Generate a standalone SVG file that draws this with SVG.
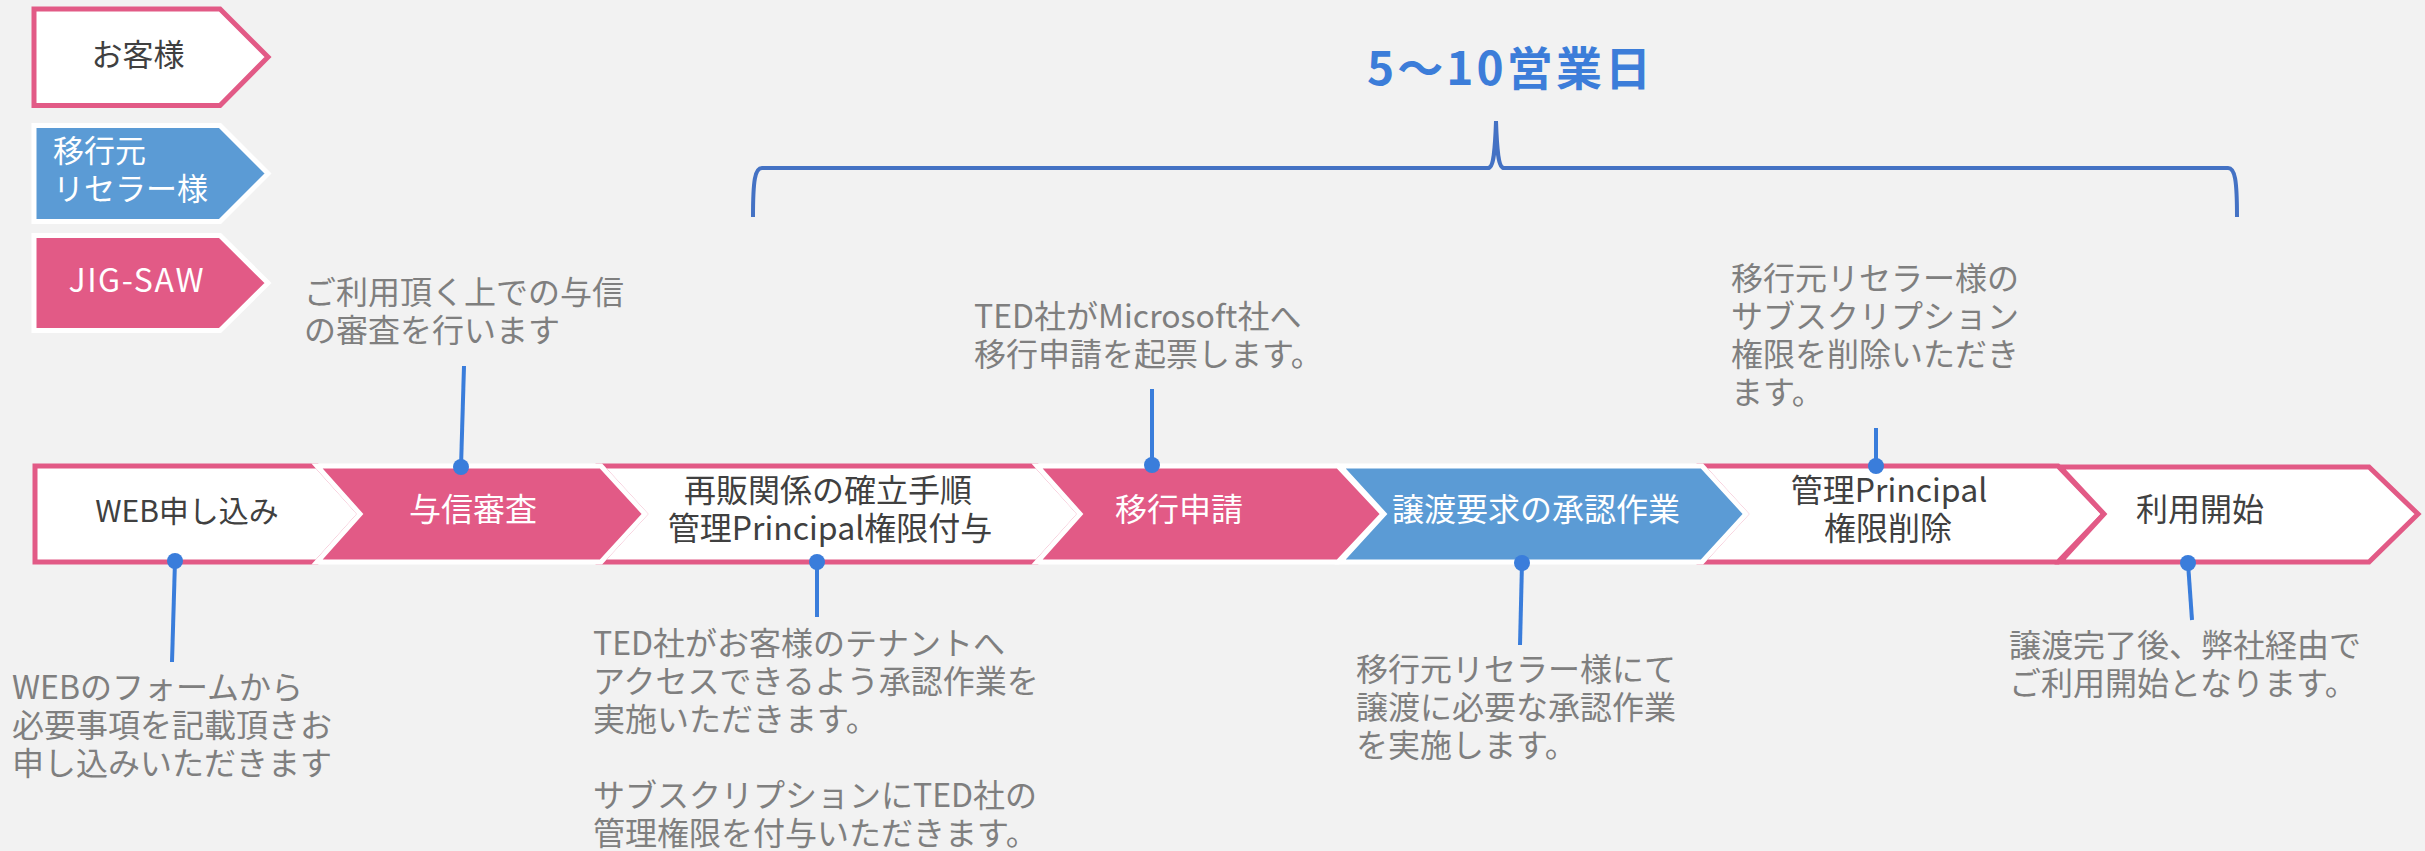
<svg xmlns="http://www.w3.org/2000/svg" width="2425" height="851" viewBox="0 0 2425 851">
<style>
text { font-family: 'Noto Sans CJK JP', 'Noto Sans CJK SC', sans-serif; }
.lbl { font-size: 32px; fill: #404040; text-anchor: middle; }
.lblw { font-size: 32px; fill: #FFFFFF; text-anchor: middle; }
.note { font-size: 32px; fill: #7F7F7F; }
.pinkline { fill: #FFFFFF; stroke: #E25A86; stroke-width: 5; }
.pinkfill { fill: #E25A86; stroke: #FFFFFF; stroke-width: 5; }
.bluefill { fill: #5B9BD5; stroke: #FFFFFF; stroke-width: 5; }
.conn line { stroke: #3A7DDB; stroke-width: 4; }
.conn circle { fill: #3A7DDB; }
.title { font-size: 46px; font-weight: bold; fill: #3C7DD9; text-anchor: middle; }
</style>
<rect width="2425" height="851" fill="#F2F2F2"/>

<!-- legend -->
<g id="legend-customer">
  <path class="pinkline" d="M34,9 H220 L268,57 L220,105.5 H34 Z"/>
  <text class="lbl" x="138" y="66" style="font-size:31px">お客様</text>
</g>
<g id="legend-reseller">
  <path class="bluefill" d="M34,125.5 H220 L268,173.5 L220,221.5 H34 Z"/>
  <text class="lblw" x="53" y="162" style="text-anchor:start;font-size:31px">移行元</text>
  <text class="lblw" x="53" y="200" style="text-anchor:start;font-size:31px">リセラー様</text>
</g>
<g id="legend-jigsaw">
  <path class="pinkfill" d="M34,235.5 H220 L268,283 L220,330.5 H34 Z"/>
  <text class="lblw" x="136" y="292" textLength="135">JIG-SAW</text>
</g>

<!-- title and brace -->
<g id="period">
  <text class="title" x="1509" y="85" textLength="284">5〜10営業日</text>
  <path d="M753,217 C753,180 755,168 762,168 H1488 C1494,168 1495,150 1496,121 C1497,150 1498,168 1504,168 H2228 C2235,168 2237,180 2237,217" fill="none" stroke="#4472C4" stroke-width="4"/>
</g>

<!-- flow nodes (outlined first) -->
<g id="step-web">
  <path class="pinkline" d="M35,466 H317 L360,514 L317,562 H35 Z"/>
  <text class="lbl" x="187" y="522" style="font-size:30px">WEB申し込み</text>
</g>
<g id="step-resale">
  <path class="pinkline" d="M601,466 H1037 L1080,514 L1037,562 H601 L645,514 Z"/>
  <text class="lbl" x="828" y="502">再販関係の確立手順</text>
  <text class="lbl" x="830" y="540">管理Principal権限付与</text>
</g>
<g id="step-remove">
  <path class="pinkline" d="M1702,466 H2058 L2104,514 L2058,562 H1702 L1746,514 Z"/>
  <text class="lbl" x="1889" y="502">管理Principal</text>
  <text class="lbl" x="1888" y="540">権限削除</text>
</g>
<g id="step-start">
  <path class="pinkline" d="M2060,467 H2369 L2418,514 L2369,562 H2060 L2104,514 Z"/>
  <text class="lbl" x="2200" y="521">利用開始</text>
</g>
<g id="step-credit">
  <path class="pinkfill" d="M317,466 H601 L645,514 L601,562 H317 L360,514 Z"/>
  <text class="lblw" x="473" y="521">与信審査</text>
</g>
<g id="step-apply">
  <path class="pinkfill" d="M1037,466 H1338 L1383,514 L1338,562 H1037 L1080,514 Z"/>
  <text class="lblw" x="1179" y="521">移行申請</text>
</g>
<g id="step-approve">
  <path class="bluefill" d="M1340,466 H1702 L1746,514 L1702,562 H1340 L1384,514 Z"/>
  <text class="lblw" x="1536" y="521">譲渡要求の承認作業</text>
</g>

<!-- notes -->
<g id="note-web">
  <text class="note" x="12" y="699">WEBのフォームから</text>
  <text class="note" x="12" y="737">必要事項を記載頂きお</text>
  <text class="note" x="12" y="775">申し込みいただきます</text>
</g>
<g id="note-credit">
  <text class="note" x="304" y="304">ご利用頂く上での与信</text>
  <text class="note" x="304" y="342">の審査を行います</text>
</g>
<g id="note-resale">
  <text class="note" x="593" y="655">TED社がお客様のテナントへ</text>
  <text class="note" x="593" y="693">アクセスできるよう承認作業を</text>
  <text class="note" x="593" y="731">実施いただきます。</text>
  <text class="note" x="593" y="807">サブスクリプションにTED社の</text>
  <text class="note" x="593" y="845">管理権限を付与いただきます。</text>
</g>
<g id="note-apply">
  <text class="note" x="974" y="328">TED社がMicrosoft社へ</text>
  <text class="note" x="974" y="366">移行申請を起票します。</text>
</g>
<g id="note-approve">
  <text class="note" x="1356" y="681">移行元リセラー様にて</text>
  <text class="note" x="1356" y="719">譲渡に必要な承認作業</text>
  <text class="note" x="1356" y="757">を実施します。</text>
</g>
<g id="note-remove">
  <text class="note" x="1731" y="290">移行元リセラー様の</text>
  <text class="note" x="1731" y="328">サブスクリプション</text>
  <text class="note" x="1731" y="366">権限を削除いただき</text>
  <text class="note" x="1731" y="404">ます。</text>
</g>
<g id="note-start">
  <text class="note" x="2009" y="657">譲渡完了後、弊社経由で</text>
  <text class="note" x="2009" y="695">ご利用開始となります。</text>
</g>

<!-- connectors -->
<g id="connectors" class="conn">
  <line x1="175" y1="561" x2="172" y2="662"/>
  <circle cx="175" cy="561" r="8"/>
  <line x1="461" y1="467" x2="464" y2="366"/>
  <circle cx="461" cy="467" r="8"/>
  <line x1="817" y1="562" x2="817" y2="617"/>
  <circle cx="817" cy="562" r="8"/>
  <line x1="1152" y1="465" x2="1152" y2="389"/>
  <circle cx="1152" cy="465" r="8"/>
  <line x1="1522" y1="563" x2="1520" y2="645"/>
  <circle cx="1522" cy="563" r="8"/>
  <line x1="1876" y1="466" x2="1876" y2="428"/>
  <circle cx="1876" cy="466" r="8"/>
  <line x1="2188" y1="563" x2="2192" y2="620"/>
  <circle cx="2188" cy="563" r="8"/>
</g>
</svg>
